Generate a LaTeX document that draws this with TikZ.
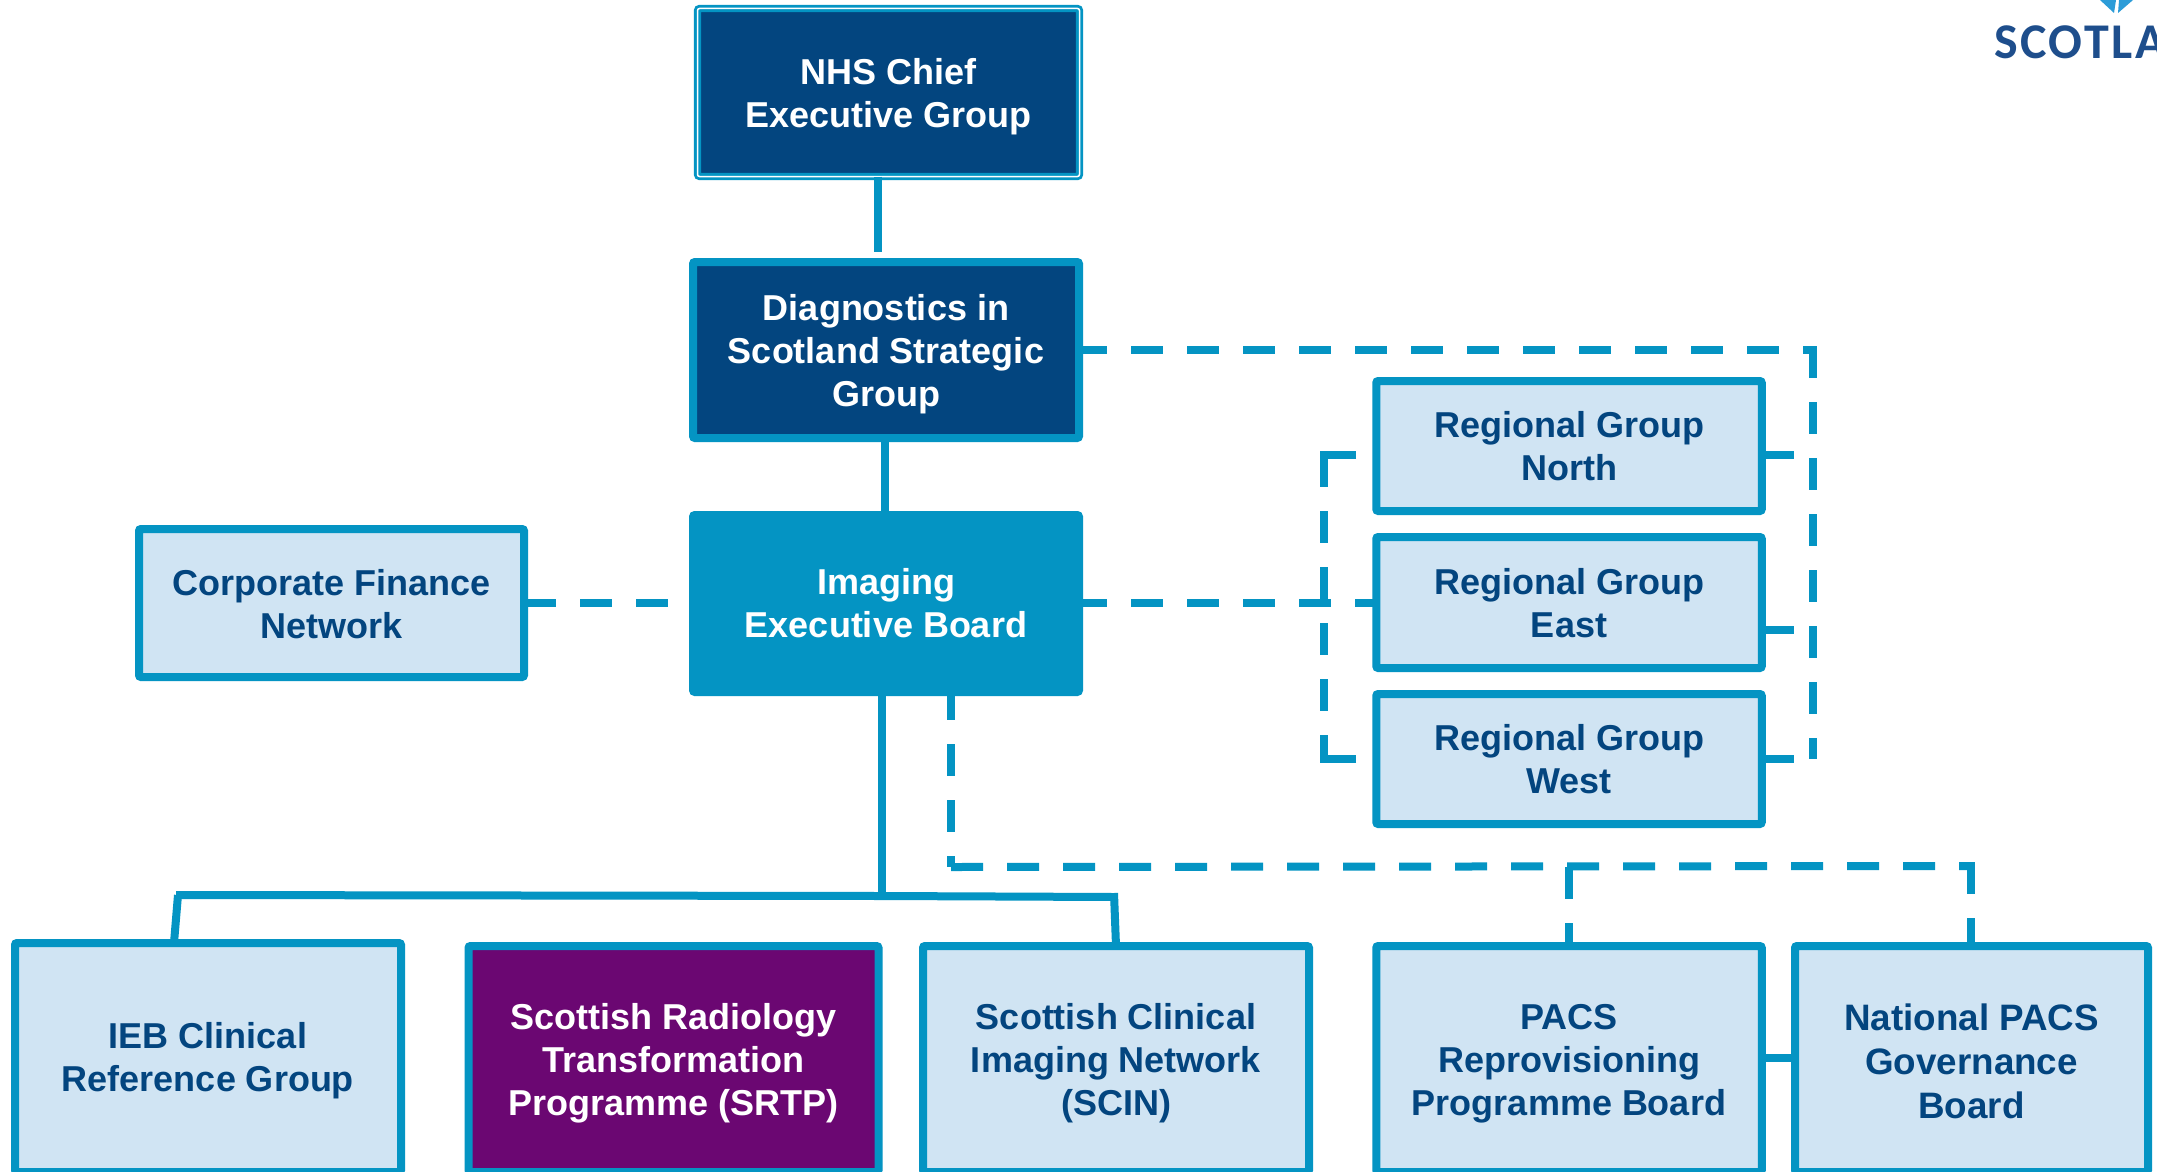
\documentclass[tikz,border=0pt]{standalone}
\usepackage{fontspec}
\setmainfont{Liberation Sans}
\newfontfamily\logofont[LetterSpace=5]{Carlito}
\definecolor{teal1}{HTML}{0494C3}
\definecolor{navy1}{HTML}{03457F}
\definecolor{pale1}{HTML}{D0E4F3}
\definecolor{purp1}{HTML}{6B0772}
\definecolor{logo1}{HTML}{1E4E8C}
\definecolor{logo2}{HTML}{2C9CD8}
\newcommand{\firstline}[1]{\rule{0pt}{#1pt}}
\tikzset{
  x=1pt,y=-1pt,
  base/.style={rectangle,outer sep=0pt,inner sep=0pt,align=center,rounded corners=2pt,
    font=\fontsize{36}{43}\bfseries\selectfont,line width=8pt,draw=teal1},
  palebox/.style={base,fill=pale1,text=navy1},
  navybox/.style={base,fill=navy1,text=white},
  tealbox/.style={base,fill=teal1,text=white},
  purpbox/.style={base,fill=purp1,text=white},
  topbox/.style={base,fill=navy1,text=white,line width=2.8pt,double=white,double distance=1.5pt},
  solidline/.style={teal1,line width=8pt},
  dashline/.style={teal1,line width=8pt,dash pattern=on 32pt off 24pt},
}
\begin{document}
\begin{tikzpicture}
\useasboundingbox (0,0) rectangle (2157,1172);
\clip (0,0) rectangle (2157,1172);
\fill[white] (0,0) rectangle (2157,1172);
% nodes
\node[topbox,minimum width=382pt,minimum height=168pt] (nhs) at (888.5,92.5) {\firstline{34}NHS Chief\\Executive Group};
\node[navybox,minimum width=386pt,minimum height=176pt] (diag) at (886,350) {\firstline{35}Diagnostics in\\Scotland Strategic\\Group};
\node[tealbox,minimum width=386pt,minimum height=177pt] (ieb) at (886,603.5) {Imaging\\Executive Board};
\node[palebox,minimum width=385pt,minimum height=148pt] (corp) at (331.5,603) {\firstline{28}Corporate Finance\\Network};
\node[palebox,minimum width=385.5pt,minimum height=130pt] (north) at (1569,446) {\firstline{27}Regional Group\\North};
\node[palebox,minimum width=385.5pt,minimum height=131pt] (east) at (1569,602.5) {\firstline{27}Regional Group\\East};
\node[palebox,minimum width=385.5pt,minimum height=130pt] (west) at (1569,759) {\firstline{27}Regional Group\\West};
\node[palebox,minimum width=386pt,minimum height=229pt] (clin) at (208,1057.5) {\firstline{33}IEB Clinical\\Reference Group};
\node[purpbox,minimum width=410pt,minimum height=226pt] (srtp) at (673.5,1059) {\firstline{35}Scottish Radiology\\Transformation\\Programme (SRTP)};
\node[palebox,minimum width=386pt,minimum height=226pt] (scin) at (1116,1059) {\firstline{35}Scottish Clinical\\Imaging Network\\(SCIN)};
\node[palebox,minimum width=385.5pt,minimum height=226pt] (pacs) at (1569,1059) {\firstline{35}PACS\\Reprovisioning\\Programme Board};
\node[palebox,minimum width=353pt,minimum height=226pt,font=\fontsize{36.8}{44}\bfseries\selectfont] (natl) at (1971.5,1059) {\firstline{32}National PACS\\Governance\\Board};
% logo
\node[anchor=base west,inner sep=0pt,text=logo1] (logo) at (1994,59) {\logofont\fontsize{50}{50}\bfseries\selectfont SCOTLA};
\fill[logo2] (2100,0) -- (2116,0) -- (2114,13) -- cycle;
\fill[logo2] (2133,0) -- (2119,0) -- (2118,13) -- cycle;
% coordinates
\coordinate (topC) at (1813,350);
\coordinate (junc) at (882,896);
\coordinate (jL) at (176,895);
\coordinate (jR) at (1114,897);
\coordinate (dn) at (951,700);
\coordinate (dnC) at (951,867);
\coordinate (pacsC) at (1569,867);
\coordinate (natlC) at (1971,866);
% solid connectors
\draw[solidline] (nhs.south -| 878,0) -- (878,252);
\draw[solidline] (diag.south -| 885,0) -- (ieb.north -| 885,0);
\draw[solidline] (ieb.south -| junc) -- (junc);
\draw[solidline] (jL) -- (junc) -- (jR);
\draw[solidline] (178,895) -- (clin.north -| 174,0);
\draw[solidline] (1114,893) -- (scin.north -| 1116,0);
\draw[solidline] (pacs.east |- 0,1058) -- (natl.west |- 0,1058);
\draw[solidline] ([yshift=-9pt]north.east) -- ++(32,0);
\draw[solidline] ([yshift=-27.5pt]east.east) -- ++(32,0);
\draw[solidline] (west.east) -- ++(32,0);
% dashed connectors
\draw[dashline,dash phase=4pt] (diag.east) -- (topC);
\draw[dashline] (1813,346) -- (1813,759);
\draw[dashline,dash phase=4pt] (ieb.east |- 0,603) -- (east.west |- 0,603);
\draw[dashline] (corp.east |- 0,603) -- (ieb.west |- 0,603);
\draw[solidline] (1356,455) -- (1320,455);
\draw[dashline] (1324,455) -- (1324,763);
\draw[solidline] (1356,759) -- (1320,759);
\draw[dashline,dash phase=4pt] (dn |- ieb.south) -- (dnC);
\draw[dashline] (dnC) -- (natlC);
\draw[dashline] (pacsC) -- (pacs.north -| pacsC);
\draw[dashline] (1971,862) -- (natl.north -| 1971,0);
\end{tikzpicture}
\end{document}
